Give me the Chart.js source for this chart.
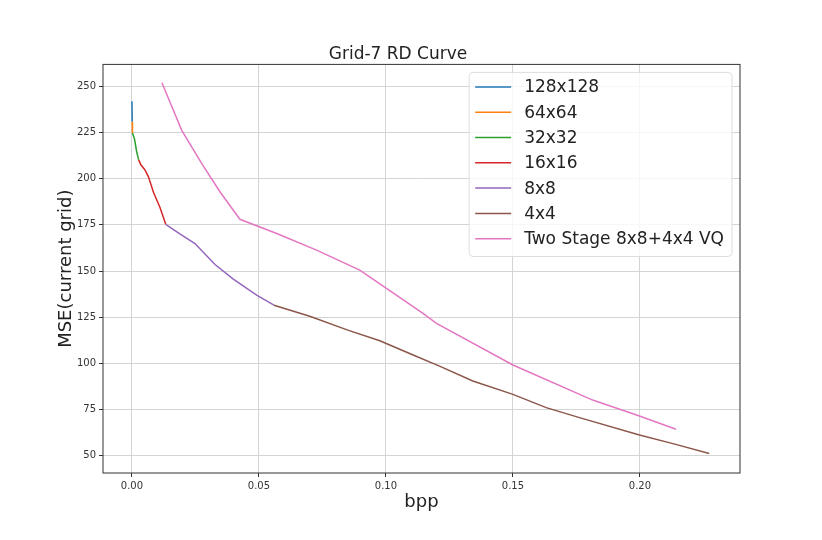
<!DOCTYPE html>
<html lang="en">
<head>
<meta charset="UTF-8">
<title>Grid-7 RD Curve</title>
<style>
    body { margin: 0; background: #ffffff; }
    canvas { display: block; }
</style>
<script src="https://cdn.jsdelivr.net/npm/chart.js"></script>
</head>
<body>
<canvas id="rdChart" width="822" height="540"></canvas>
<script>
    // series (bpp, MSE)
    const seriesNames = ['128x128', '64x64', '32x32', '16x16', '8x8', '4x4', 'Two Stage 8x8+4x4 VQ'];
    const seriesColors = ['#1f77b4', '#ff7f0e', '#2ca02c', '#d62728', '#9467bd', '#8c564b', '#e377c2'];

    const bpp128 = [0.0000, 0.0001];
    const mse128 = [242, 231];
    const bpp64 = [0.0001, 0.0002];
    const mse64 = [231, 224.7];
    const bpp32 = [0.0002, 0.0010, 0.0018, 0.0026];
    const mse32 = [224.7, 221.5, 215, 210.3];
    const bpp16 = [0.0026, 0.0035, 0.0050, 0.0065, 0.0085, 0.0110, 0.0133];
    const mse16 = [210.3, 207.5, 205, 201, 192.5, 184.5, 175.3];
    const bpp8 = [0.0133, 0.0190, 0.0248, 0.0327, 0.0399, 0.0491, 0.0559];
    const mse8 = [175.3, 170, 164.9, 153.5, 145.6, 136.9, 131.5];
    const bpp4 = [0.0559, 0.0700, 0.0850, 0.0976, 0.1107, 0.1211, 0.1342, 0.1500, 0.1631, 0.1762, 0.1998, 0.2130, 0.2273];
    const mse4 = [131.5, 125.5, 118, 112.2, 104.5, 98.5, 90.4, 83.2, 76, 70.6, 61.2, 56.5, 51.2];
    const bppVQ = [0.0118, 0.0196, 0.0275, 0.0347, 0.0425, 0.0570, 0.0727, 0.0897, 0.1002, 0.1146, 0.1199, 0.1500, 0.1814, 0.1998, 0.2142];
    const mseVQ = [252, 226.2, 208.2, 192.8, 178, 170.3, 161.3, 150.5, 140.6, 127, 121.6, 99.1, 80.1, 71.5, 64.3];

    const xTicks = [0.00, 0.05, 0.10, 0.15, 0.20];
    const yTicks = [50, 75, 100, 125, 150, 175, 200, 225, 250];

    const bppSets = [bpp128, bpp64, bpp32, bpp16, bpp8, bpp4, bppVQ];
    const mseSets = [mse128, mse64, mse32, mse16, mse8, mse4, mseVQ];

    const datasets = seriesNames.map((name, i) => ({
        label: name,
        data: bppSets[i].map((x, j) => ({ x: x, y: mseSets[i][j] })),
        borderColor: seriesColors[i],
        backgroundColor: seriesColors[i],
        borderWidth: 1.5,
        pointRadius: 0,
        tension: 0,
        fill: false
    }));

    // matplotlib-like frame and legend box
    const framePlugin = {
        id: 'frame',
        afterDraw(chart) {
            const ctx = chart.ctx;
            const a = chart.chartArea;
            ctx.save();
            ctx.strokeStyle = '#333333';
            ctx.lineWidth = 1;
            ctx.strokeRect(a.left, a.top, a.right - a.left, a.bottom - a.top);

            // legend
            ctx.font = '17px "DejaVu Sans"';
            let textW = 0;
            chart.data.datasets.forEach(d => { textW = Math.max(textW, ctx.measureText(d.label).width); });
            const rowH = 25.3;
            const boxW = 55 + textW + 8;
            const boxH = rowH * chart.data.datasets.length + 7;
            const bx = a.right - 8 - boxW;
            const by = a.top + 8;
            ctx.beginPath();
            ctx.roundRect(bx, by, boxW, boxH, 4);
            ctx.fillStyle = 'rgba(255,255,255,0.8)';
            ctx.fill();
            ctx.strokeStyle = '#dddddd';
            ctx.stroke();
            chart.data.datasets.forEach((d, i) => {
                const cy = by + 14.5 + i * rowH;
                ctx.beginPath();
                ctx.moveTo(bx + 6, cy);
                ctx.lineTo(bx + 42, cy);
                ctx.strokeStyle = d.borderColor;
                ctx.lineWidth = 1.5;
                ctx.stroke();
                ctx.fillStyle = '#222222';
                ctx.textBaseline = 'middle';
                ctx.fillText(d.label, bx + 55, cy + 1);
            });
            ctx.restore();
        }
    };

    const ctxRd = document.getElementById('rdChart').getContext('2d');
    const rdChart = new Chart(ctxRd, {
        type: 'line',
        data: { datasets: datasets },
        options: {
            responsive: false,
            animation: false,
            parsing: true,
            layout: { padding: { left: 56, right: 82, top: 44, bottom: 27 } },
            plugins: {
                legend: { display: false },
                tooltip: { enabled: false },
                title: {
                    display: true,
                    text: 'Grid-7 RD Curve',
                    color: '#222222',
                    font: { family: 'DejaVu Sans', size: 17, weight: 'normal' },
                    padding: { top: 0, bottom: 0 }
                }
            },
            scales: {
                x: {
                    type: 'linear',
                    min: -0.0114,
                    max: 0.2394,
                    afterBuildTicks: s => { s.ticks = xTicks.map(v => ({ value: v })); },
                    afterFit: s => { s.height = 40; },
                    ticks: {
                        color: '#333333',
                        font: { family: 'DejaVu Sans', size: 10 },
                        padding: 3,
                        maxRotation: 0,
                        callback: v => v.toFixed(2)
                    },
                    grid: { color: '#d4d4d4', tickColor: '#333333', tickLength: 4 },
                    border: { display: false },
                    title: {
                        display: true,
                        text: 'bpp',
                        color: '#222222',
                        font: { family: 'DejaVu Sans', size: 18 },
                        padding: 0
                    }
                },
                y: {
                    type: 'linear',
                    min: 40.6,
                    max: 261.9,
                    afterBuildTicks: s => { s.ticks = yTicks.map(v => ({ value: v })); },
                    afterFit: s => { s.width = 47; },
                    ticks: {
                        color: '#333333',
                        font: { family: 'DejaVu Sans', size: 10 },
                        padding: 3,
                        callback: v => String(v)
                    },
                    grid: { color: '#d4d4d4', tickColor: '#333333', tickLength: 4 },
                    border: { display: false },
                    title: {
                        display: true,
                        text: 'MSE(current grid)',
                        color: '#222222',
                        font: { family: 'DejaVu Sans', size: 18 },
                        padding: 0
                    }
                }
            }
        },
        plugins: [framePlugin]
    });
</script>
</body>
</html>
